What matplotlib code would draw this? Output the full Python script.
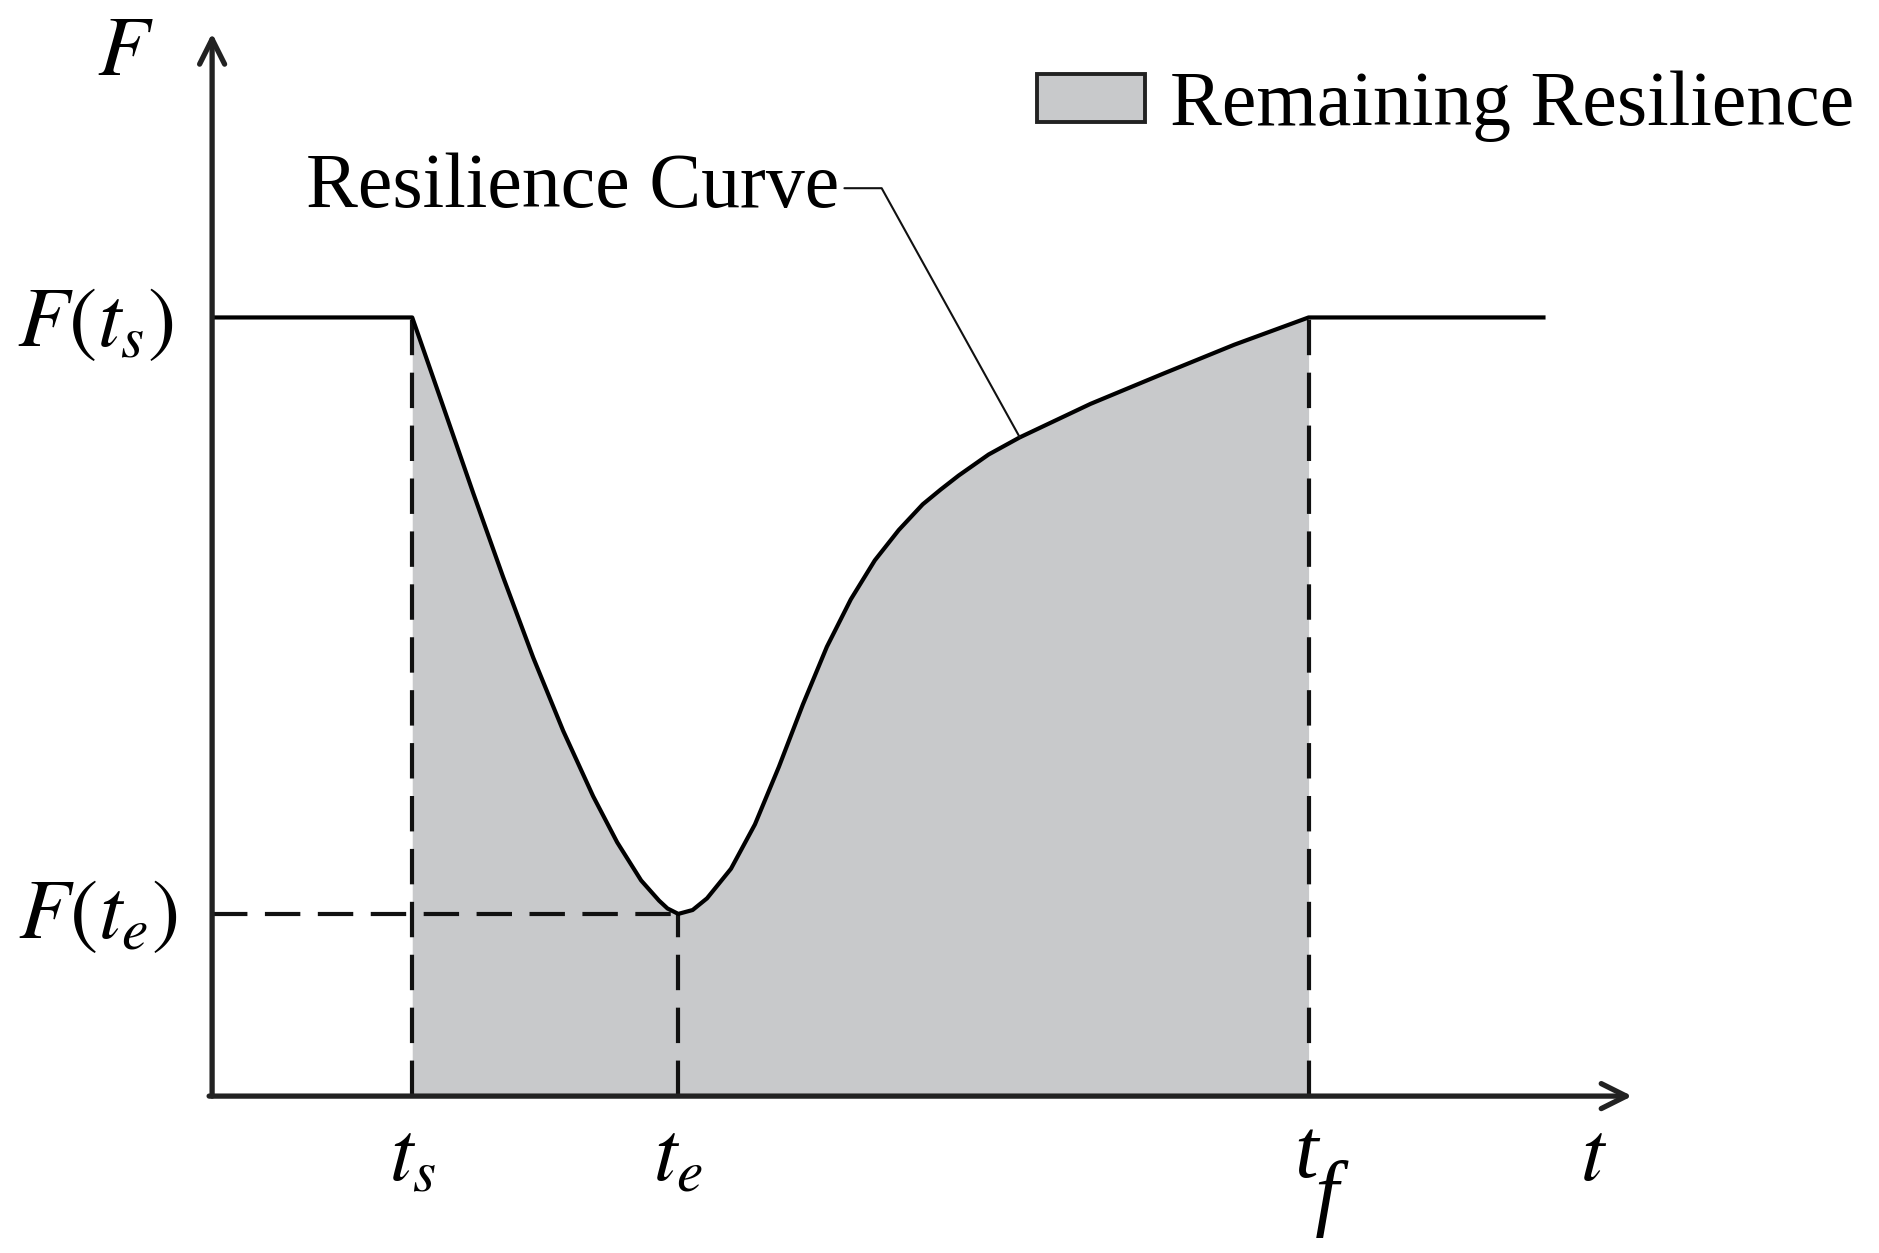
import matplotlib
matplotlib.use('Agg')
from matplotlib import pyplot as plt
from matplotlib.patches import Patch

plt.rcParams['font.family'] = ['Liberation Serif', 'DejaVu Serif']
plt.rcParams['mathtext.fontset'] = 'stix'

# key times and levels (t in arbitrary units, F normalised to F(ts)=1)
t_s = 1.67
t_e = 3.89
t_f = 9.15
t_end = 11.11
F_s = 1.0
F_e = 0.234

# resilience curve
curve_t = [0.0, 1.67, 1.93, 2.18, 2.43, 2.68, 2.93, 3.18, 3.38, 3.58, 3.73, 3.80,
           3.89, 4.01, 4.13, 4.33, 4.53, 4.73, 4.93, 5.13, 5.33, 5.53, 5.73, 5.93,
           6.08, 6.23, 6.48, 6.74, 7.33, 7.94, 8.53, 9.15, 11.11]
curve_F = [1.0, 1.0, 0.885, 0.774, 0.666, 0.563, 0.469, 0.385, 0.326, 0.277, 0.251, 0.241,
           0.234, 0.239, 0.254, 0.292, 0.349, 0.423, 0.503, 0.577, 0.638, 0.688, 0.727, 0.760,
           0.779, 0.797, 0.824, 0.846, 0.889, 0.928, 0.965, 1.0, 1.0]

fill_color = '#c8c9cb'
fs = 56
fs_math = 61

fig = plt.figure(figsize=(18.79, 12.53), dpi=100)
ax = fig.add_axes([0, 0, 1, 1])
ax.set_xlim(-1.77, 13.91)
ax.set_ylim(-0.2015, 1.4077)
ax.axis('off')

# shaded area between ts and tf
fill_t = [t for t in curve_t if t_s <= t <= t_f]
fill_F = [f for t, f in zip(curve_t, curve_F) if t_s <= t <= t_f]
ax.fill_between(fill_t, fill_F, 0, color=fill_color, lw=0, zorder=1)

# dashed guides
dash = dict(color='#111111', lw=3.0, dashes=(8.5, 4.2), zorder=2)
ax.plot([t_s, t_s], [0, F_s], **dash)
ax.plot([t_e, t_e], [0, F_e], **dash)
ax.plot([t_f, t_f], [0, F_s], **dash)
ax.plot([0, t_e], [F_e, F_e], **dash)

# curve
ax.plot(curve_t, curve_F, color='black', lw=3.0, solid_joinstyle='round', zorder=3)

# axes with open arrow heads
arr = dict(arrowstyle='->,head_length=0.9,head_width=0.45', lw=3.8, color='#222222',
           shrinkA=0, shrinkB=0, mutation_scale=20)
ax.annotate('', xy=(0, 1.365), xytext=(0, 0), arrowprops=arr, zorder=4)
ax.annotate('', xy=(11.85, 0), xytext=(-0.025, 0), arrowprops=arr, zorder=4)

# labels
ax.text(-0.72, 1.338, r'$F$', fontsize=fs_math, ha='center', va='center')
ax.text(-0.32, 0.99, r'$F(t_s)$', fontsize=fs_math, ha='right', va='center')
ax.text(-0.29, 0.23, r'$F(t_e)$', fontsize=fs_math, ha='right', va='center')
ax.text(t_s, -0.082, r'$t_s$', fontsize=fs_math, ha='center', va='center')
ax.text(t_e, -0.082, r'$t_e$', fontsize=fs_math, ha='center', va='center')
ax.text(t_f - 0.12, -0.028, 't\n f', fontsize=fs_math, fontstyle='italic',
        ha='left', va='top', multialignment='left', linespacing=0.42)
ax.text(11.53, -0.082, r'$t$', fontsize=fs_math, ha='center', va='center')

# callout
i_hit = curve_t.index(6.74)
ax.annotate('Resilience Curve', xy=(curve_t[i_hit], curve_F[i_hit]), xytext=(5.23, 1.166),
            fontsize=fs, ha='right', va='center',
            arrowprops=dict(arrowstyle='-', lw=1.5, color='#111111', relpos=(1, 0.5),
                            shrinkA=2, shrinkB=0,
                            connectionstyle='angle,angleA=0,angleB=119,rad=0'))

# legend
handle = Patch(facecolor=fill_color, edgecolor='#222222', lw=2.8, label='Remaining Resilience')
ax.legend(handles=[handle], loc='center left', bbox_to_anchor=(0.552, 0.915),
          frameon=False, fontsize=fs, borderpad=0, borderaxespad=0,
          handlelength=1.38, handleheight=0.58, handletextpad=0.33)

plt.savefig('out.png', dpi=100)
